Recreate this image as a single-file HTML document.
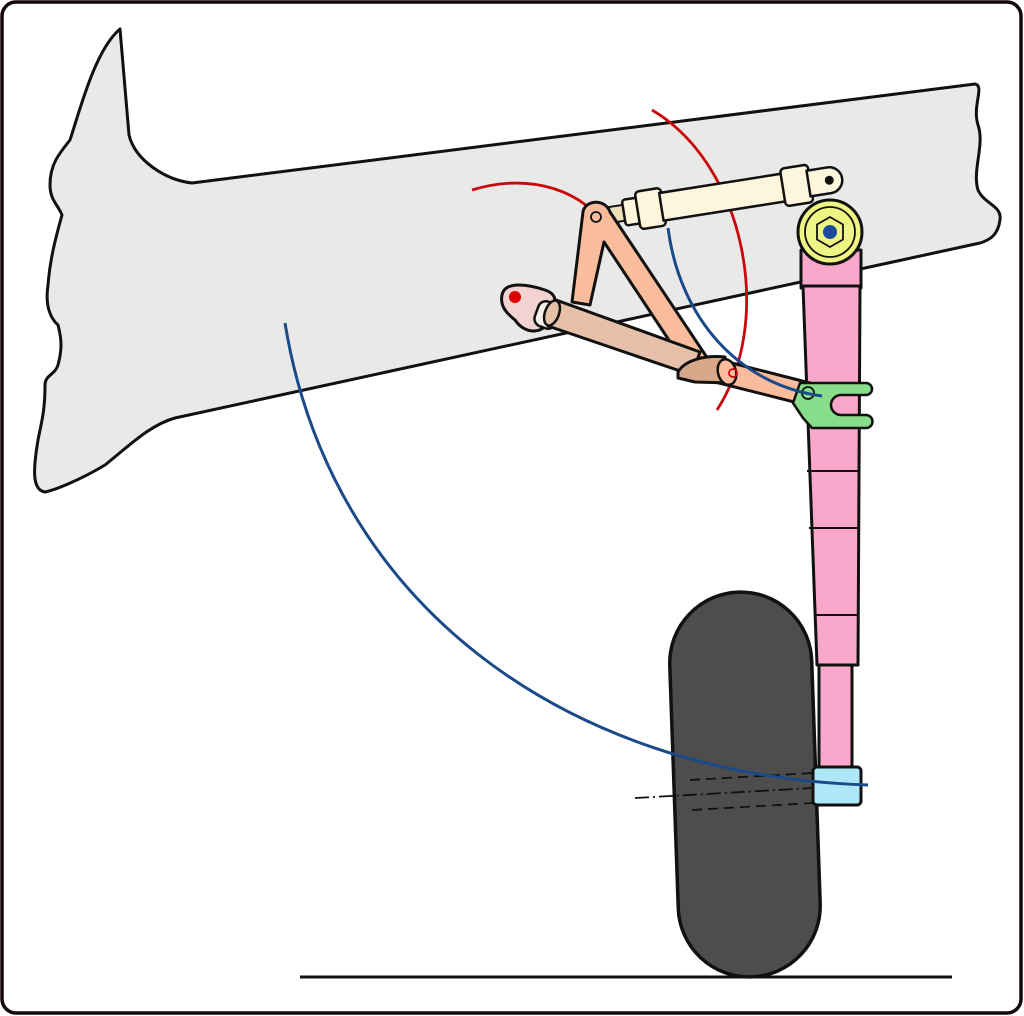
<!DOCTYPE html>
<html><head><meta charset="utf-8"><style>html,body{margin:0;padding:0;background:#fff}svg{display:block}</style></head>
<body>
<svg width="1024" height="1016" viewBox="0 0 1024 1016" xmlns="http://www.w3.org/2000/svg" stroke-linejoin="round">
<rect x="2" y="2" width="1019" height="1011" rx="14" fill="#fff" stroke="#140808" stroke-width="3.5"/>
<path d="M120,29 L129,135 C135,160 165,180 192,183 L975,84 C985,86 972,105 978,125 C985,145 972,170 978,190 C985,205 1002,205 1000,220 C998,235 990,240 980,243 L175,418 C150,425 130,445 105,465 C80,480 55,490 45,492 C32,490 33,470 38,440 C42,420 45,410 45,385 C45,375 55,375 58,365 C62,350 62,340 58,325 C50,318 45,305 48,285 C50,260 55,240 62,215 C58,205 50,200 50,185 C50,165 58,155 70,140 C80,110 95,50 120,29 Z" fill="#e9eae8" stroke="#111" stroke-width="3"/>
<path d="M472,190 C530,172 585,190 610,232" fill="none" stroke="#c8080c" stroke-width="2.8"/>
<path d="M652,110 C745,165 775,320 717,410" fill="none" stroke="#c8080c" stroke-width="2.8"/>
<rect x="674" y="592" width="142" height="385" rx="71" transform="rotate(-2 745 785)" fill="#4d4e4b" stroke="#111" stroke-width="3.5"/>
<rect x="801" y="250" width="60" height="38" fill="#f9a8cc" stroke="#111" stroke-width="3"/>
<path d="M803,286 L860,286 L858,665 L817,665 Z" fill="#f9a8cc" stroke="#111" stroke-width="3"/>
<line x1="805" y1="415" x2="859" y2="415" stroke="#111" stroke-width="2"/>
<line x1="807" y1="471" x2="859" y2="471" stroke="#111" stroke-width="2"/>
<line x1="809" y1="528" x2="859" y2="528" stroke="#111" stroke-width="2"/>
<line x1="814" y1="615" x2="858" y2="615" stroke="#111" stroke-width="2"/>
<rect x="819" y="665" width="33" height="104" fill="#f9a8cc" stroke="#111" stroke-width="3"/>
<rect x="813" y="767" width="48" height="38" rx="4" fill="#aee8f8" stroke="#111" stroke-width="3"/>
<line x1="690" y1="780" x2="813" y2="773" stroke="#111" stroke-width="1.8" stroke-dasharray="10,6"/>
<line x1="635" y1="798" x2="813" y2="788" stroke="#111" stroke-width="1.8" stroke-dasharray="14,4,2,4"/>
<line x1="692" y1="810" x2="813" y2="803" stroke="#111" stroke-width="1.8" stroke-dasharray="10,6"/>
<path d="M285,323 C330,600 560,775 868,785" fill="none" stroke="#1b4a8a" stroke-width="3"/>
<circle cx="830" cy="232" r="32" fill="#eef582" stroke="#111" stroke-width="3"/>
<circle cx="830" cy="232" r="25" fill="none" stroke="#111" stroke-width="1.8"/>
<polygon points="830,217 843,224.5 843,239.5 830,247 817,239.5 817,224.5" fill="none" stroke="#111" stroke-width="1.8"/>
<circle cx="830" cy="232" r="7" fill="#1b4a9a"/>
<g transform="translate(610,215) rotate(-9)">
<rect x="0" y="-8" width="20" height="16" fill="#eee0b8" stroke="#111" stroke-width="2"/>
<rect x="14" y="-13" width="18" height="26" rx="3" fill="#fdf6dc" stroke="#111" stroke-width="2.5"/>
<rect x="28" y="-19" width="26" height="38" rx="4" fill="#fdf6dc" stroke="#111" stroke-width="2.5"/>
<rect x="52" y="-14" width="128" height="28" fill="#fdf6dc" stroke="#111" stroke-width="2.5"/>
<rect x="175" y="-19" width="28" height="38" rx="4" fill="#fdf6dc" stroke="#111" stroke-width="2.5"/>
<path d="M201,-13 L222,-13 A13,13 0 0 1 222,13 L201,13 Z" fill="#fdf6dc" stroke="#111" stroke-width="2.5"/>
<circle cx="222" cy="0" r="4.5" fill="#111"/>
</g>
<path d="M583,212 C585,200 605,198 610,212 L710,362 L690,372 L604,242 L590,305 L572,302 Z" fill="#f9bc9c" stroke="#111" stroke-width="3"/>
<circle cx="596" cy="217" r="5" fill="none" stroke="#111" stroke-width="1.8"/>
<path d="M502,295 C505,280 530,285 545,290 C560,295 555,305 550,318 C545,335 525,335 515,320 C505,312 500,305 502,295 Z" fill="#f3d2d2" stroke="#111" stroke-width="3"/>
<circle cx="515" cy="297" r="6" fill="#d00"/>
<rect x="536" y="302" width="22" height="26" rx="8" transform="rotate(20 547 315)" fill="#f5f0ea" stroke="#111" stroke-width="2.5"/>
<path d="M556,300 L700,352 L692,375 L548,326 Z" fill="#e6c0a8" stroke="#111" stroke-width="3"/>
<ellipse cx="552" cy="313" rx="7" ry="13" transform="rotate(20 552 313)" fill="#e6c0a8" stroke="#111" stroke-width="2.5"/>
<path d="M720,360 L810,383 L806,405 L715,382 Z" fill="#f9bc9c" stroke="#111" stroke-width="3"/>
<path d="M678,372 C685,360 705,355 725,357 L730,383 L695,382 L678,378 Z" fill="#d9a88a" stroke="#111" stroke-width="3"/>
<ellipse cx="727" cy="372" rx="9" ry="13" transform="rotate(-15 727 372)" fill="#f9bc9c" stroke="#111" stroke-width="2.5"/>
<circle cx="733" cy="373" r="4" fill="none" stroke="#c8080c" stroke-width="1.8"/>
<path d="M800,383 L866,383 A6,6 0 0 1 866,395 L840,395 C828,397 828,413 840,415 L866,415 A6,6 0 0 1 866,428 L812,428 L803,418 L793,403 Z" fill="#88dd8a" stroke="#111" stroke-width="2.5"/>
<circle cx="808" cy="393" r="6" fill="none" stroke="#111" stroke-width="1.8"/>
<path d="M668,228 C680,320 740,385 822,396" fill="none" stroke="#1b4a8a" stroke-width="3"/>
<line x1="300" y1="977" x2="952" y2="977" stroke="#111" stroke-width="3"/>
</svg>
</body></html>
